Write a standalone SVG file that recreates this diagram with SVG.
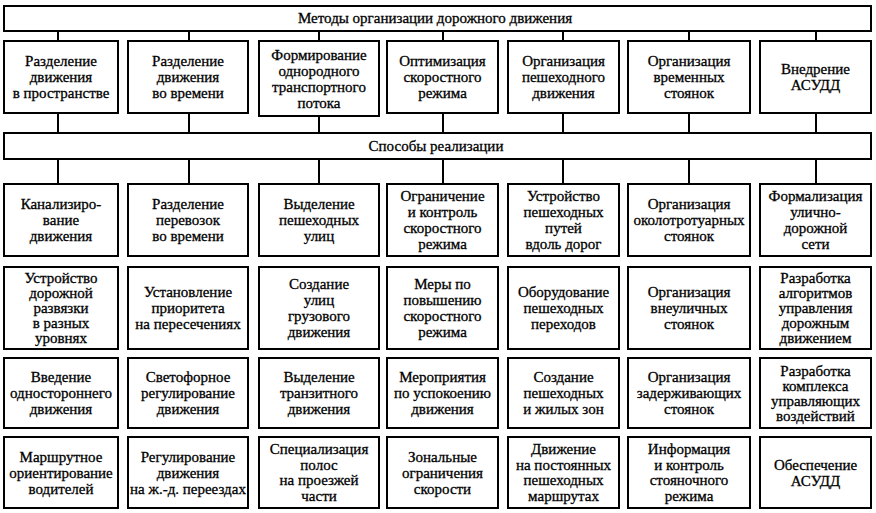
<svg xmlns="http://www.w3.org/2000/svg" width="876" height="513" viewBox="0 0 876 513">
<style>
.box{fill:#fff;stroke:#000;stroke-width:2}
.c{stroke:#000;stroke-width:2;fill:none}
text{font-family:"Liberation Serif","Times New Roman",serif;font-size:15px;text-anchor:middle;fill:#000;stroke:#000;stroke-width:0.3}
</style>
<rect width="876" height="513" fill="#fff"/>
<g id="connectors">
<path class="c" d="M58 31V41M189 31V41M319 31V41M443 31V41M563 31V41M689 31V41M816 31V41"/>
<path class="c" d="M58 113V133M189 113V133M319 116V133M443 113V133M563 113V133M689 113V133M816 113V133"/>
<path class="c" d="M58 159V184M189 159V184M319 159V184M443 159V184M563 159V184M689 159V184M816 159V184"/>
</g>
<g id="methods"><rect class="box" x="4" y="6" width="867" height="25"/><text x="435" y="23">Методы организации дорожного движения</text></g>
<g id="ways"><rect class="box" x="4" y="133" width="867" height="26"/><text x="436" y="151">Способы реализации</text></g>

<g id="m1"><rect class="box" x="4" y="41" width="114" height="72"/><text x="61" y="66"><tspan x="61">Разделение</tspan><tspan x="61" dy="16">движения</tspan><tspan x="61" dy="16">в пространстве</tspan></text></g>
<g id="m2"><rect class="box" x="128" y="41" width="120" height="72"/><text x="188" y="66"><tspan x="188">Разделение</tspan><tspan x="188" dy="16">движения</tspan><tspan x="188" dy="16">во времени</tspan></text></g>
<g id="m3"><rect class="box" x="259" y="41" width="120" height="75"/><text x="319" y="59.5"><tspan x="319">Формирование</tspan><tspan x="319" dy="16">однородного</tspan><tspan x="319" dy="16">транспортного</tspan><tspan x="319" dy="16">потока</tspan></text></g>
<g id="m4"><rect class="box" x="387" y="41" width="111" height="72"/><text x="442.5" y="66"><tspan x="442.5">Оптимизация</tspan><tspan x="442.5" dy="16">скоростного</tspan><tspan x="442.5" dy="16">режима</tspan></text></g>
<g id="m5"><rect class="box" x="508" y="41" width="111" height="72"/><text x="563.5" y="66"><tspan x="563.5">Организация</tspan><tspan x="563.5" dy="16">пешеходного</tspan><tspan x="563.5" dy="16">движения</tspan></text></g>
<g id="m6"><rect class="box" x="628" y="41" width="122" height="72"/><text x="689" y="66"><tspan x="689">Организация</tspan><tspan x="689" dy="16">временных</tspan><tspan x="689" dy="16">стоянок</tspan></text></g>
<g id="m7"><rect class="box" x="760" y="41" width="111" height="72"/><text x="815.5" y="74"><tspan x="815.5">Внедрение</tspan><tspan x="815.5" dy="16">АСУДД</tspan></text></g>

<g id="r2c1"><rect class="box" x="4" y="184" width="114" height="72"/><text y="209"><tspan x="61">Канализиро-</tspan><tspan x="61" dy="16">вание</tspan><tspan x="61" dy="16">движения</tspan></text></g>
<g id="r2c2"><rect class="box" x="128" y="184" width="120" height="72"/><text y="209"><tspan x="188">Разделение</tspan><tspan x="188" dy="16">перевозок</tspan><tspan x="188" dy="16">во времени</tspan></text></g>
<g id="r2c3"><rect class="box" x="259" y="184" width="120" height="72"/><text y="209"><tspan x="319">Выделение</tspan><tspan x="319" dy="16">пешеходных</tspan><tspan x="319" dy="16">улиц</tspan></text></g>
<g id="r2c4"><rect class="box" x="387" y="184" width="111" height="72"/><text y="201"><tspan x="442.5">Ограничение</tspan><tspan x="442.5" dy="16">и контроль</tspan><tspan x="442.5" dy="16">скоростного</tspan><tspan x="442.5" dy="16">режима</tspan></text></g>
<g id="r2c5"><rect class="box" x="508" y="184" width="111" height="72"/><text y="201"><tspan x="563.5">Устройство</tspan><tspan x="563.5" dy="16">пешеходных</tspan><tspan x="563.5" dy="16">путей</tspan><tspan x="563.5" dy="16">вдоль дорог</tspan></text></g>
<g id="r2c6"><rect class="box" x="628" y="184" width="122" height="72"/><text y="209"><tspan x="689">Организация</tspan><tspan x="689" dy="16">околотротуарных</tspan><tspan x="689" dy="16">стоянок</tspan></text></g>
<g id="r2c7"><rect class="box" x="760" y="184" width="111" height="72"/><text y="201"><tspan x="815.5">Формализация</tspan><tspan x="815.5" dy="16">улично-</tspan><tspan x="815.5" dy="16">дорожной</tspan><tspan x="815.5" dy="16">сети</tspan></text></g>

<g id="r3c1"><rect class="box" x="4" y="267" width="114" height="82"/><text y="283"><tspan x="61">Устройство</tspan><tspan x="61" dy="15">дорожной</tspan><tspan x="61" dy="15">развязки</tspan><tspan x="61" dy="15">в разных</tspan><tspan x="61" dy="15">уровнях</tspan></text></g>
<g id="r3c2"><rect class="box" x="128" y="267" width="120" height="82"/><text y="297"><tspan x="188">Установление</tspan><tspan x="188" dy="16">приоритета</tspan><tspan x="188" dy="16">на пересечениях</tspan></text></g>
<g id="r3c3"><rect class="box" x="259" y="267" width="120" height="82"/><text y="289"><tspan x="319">Создание</tspan><tspan x="319" dy="16">улиц</tspan><tspan x="319" dy="16">грузового</tspan><tspan x="319" dy="16">движения</tspan></text></g>
<g id="r3c4"><rect class="box" x="387" y="267" width="111" height="82"/><text y="289"><tspan x="442.5">Меры по</tspan><tspan x="442.5" dy="16">повышению</tspan><tspan x="442.5" dy="16">скоростного</tspan><tspan x="442.5" dy="16">режима</tspan></text></g>
<g id="r3c5"><rect class="box" x="508" y="267" width="111" height="82"/><text y="297"><tspan x="563.5">Оборудование</tspan><tspan x="563.5" dy="16">пешеходных</tspan><tspan x="563.5" dy="16">переходов</tspan></text></g>
<g id="r3c6"><rect class="box" x="628" y="267" width="122" height="82"/><text y="297"><tspan x="689">Организация</tspan><tspan x="689" dy="16">внеуличных</tspan><tspan x="689" dy="16">стоянок</tspan></text></g>
<g id="r3c7"><rect class="box" x="760" y="267" width="111" height="82"/><text y="283"><tspan x="815.5">Разработка</tspan><tspan x="815.5" dy="15">алгоритмов</tspan><tspan x="815.5" dy="15">управления</tspan><tspan x="815.5" dy="15">дорожным</tspan><tspan x="815.5" dy="15">движением</tspan></text></g>

<g id="r4c1"><rect class="box" x="4" y="358" width="114" height="70"/><text y="382"><tspan x="61">Введение</tspan><tspan x="61" dy="16">одностороннего</tspan><tspan x="61" dy="16">движения</tspan></text></g>
<g id="r4c2"><rect class="box" x="128" y="358" width="120" height="70"/><text y="382"><tspan x="188">Светофорное</tspan><tspan x="188" dy="16">регулирование</tspan><tspan x="188" dy="16">движения</tspan></text></g>
<g id="r4c3"><rect class="box" x="259" y="358" width="120" height="70"/><text y="382"><tspan x="319">Выделение</tspan><tspan x="319" dy="16">транзитного</tspan><tspan x="319" dy="16">движения</tspan></text></g>
<g id="r4c4"><rect class="box" x="387" y="358" width="111" height="70"/><text y="382"><tspan x="442.5">Мероприятия</tspan><tspan x="442.5" dy="16">по успокоению</tspan><tspan x="442.5" dy="16">движения</tspan></text></g>
<g id="r4c5"><rect class="box" x="508" y="358" width="111" height="70"/><text y="382"><tspan x="563.5">Создание</tspan><tspan x="563.5" dy="16">пешеходных</tspan><tspan x="563.5" dy="16">и жилых зон</tspan></text></g>
<g id="r4c6"><rect class="box" x="628" y="358" width="122" height="70"/><text y="382"><tspan x="689">Организация</tspan><tspan x="689" dy="16">задерживающих</tspan><tspan x="689" dy="16">стоянок</tspan></text></g>
<g id="r4c7"><rect class="box" x="760" y="358" width="111" height="70"/><text y="375.5"><tspan x="815.5">Разработка</tspan><tspan x="815.5" dy="15">комплекса</tspan><tspan x="815.5" dy="15">управляющих</tspan><tspan x="815.5" dy="15">воздействий</tspan></text></g>

<g id="r5c1"><rect class="box" x="4" y="437" width="114" height="71"/><text y="461.5"><tspan x="61">Маршрутное</tspan><tspan x="61" dy="16">ориентирование</tspan><tspan x="61" dy="16">водителей</tspan></text></g>
<g id="r5c2"><rect class="box" x="128" y="437" width="120" height="71"/><text y="461.5"><tspan x="188">Регулирование</tspan><tspan x="188" dy="16">движения</tspan><tspan x="188" dy="16">на ж.-д. переездах</tspan></text></g>
<g id="r5c3"><rect class="box" x="259" y="437" width="120" height="71"/><text y="454.25"><tspan x="319">Специализация</tspan><tspan x="319" dy="15.5">полос</tspan><tspan x="319" dy="15.5">на проезжей</tspan><tspan x="319" dy="15.5">части</tspan></text></g>
<g id="r5c4"><rect class="box" x="387" y="437" width="111" height="71"/><text y="461.5"><tspan x="442.5">Зональные</tspan><tspan x="442.5" dy="16">ограничения</tspan><tspan x="442.5" dy="16">скорости</tspan></text></g>
<g id="r5c5"><rect class="box" x="508" y="437" width="111" height="71"/><text y="454.25"><tspan x="563.5">Движение</tspan><tspan x="563.5" dy="15.5">на постоянных</tspan><tspan x="563.5" dy="15.5">пешеходных</tspan><tspan x="563.5" dy="15.5">маршрутах</tspan></text></g>
<g id="r5c6"><rect class="box" x="628" y="437" width="122" height="71"/><text y="454.25"><tspan x="689">Информация</tspan><tspan x="689" dy="15.5">и контроль</tspan><tspan x="689" dy="15.5">стояночного</tspan><tspan x="689" dy="15.5">режима</tspan></text></g>
<g id="r5c7"><rect class="box" x="760" y="437" width="111" height="71"/><text y="469.5"><tspan x="815.5">Обеспечение</tspan><tspan x="815.5" dy="16">АСУДД</tspan></text></g>
</svg>
